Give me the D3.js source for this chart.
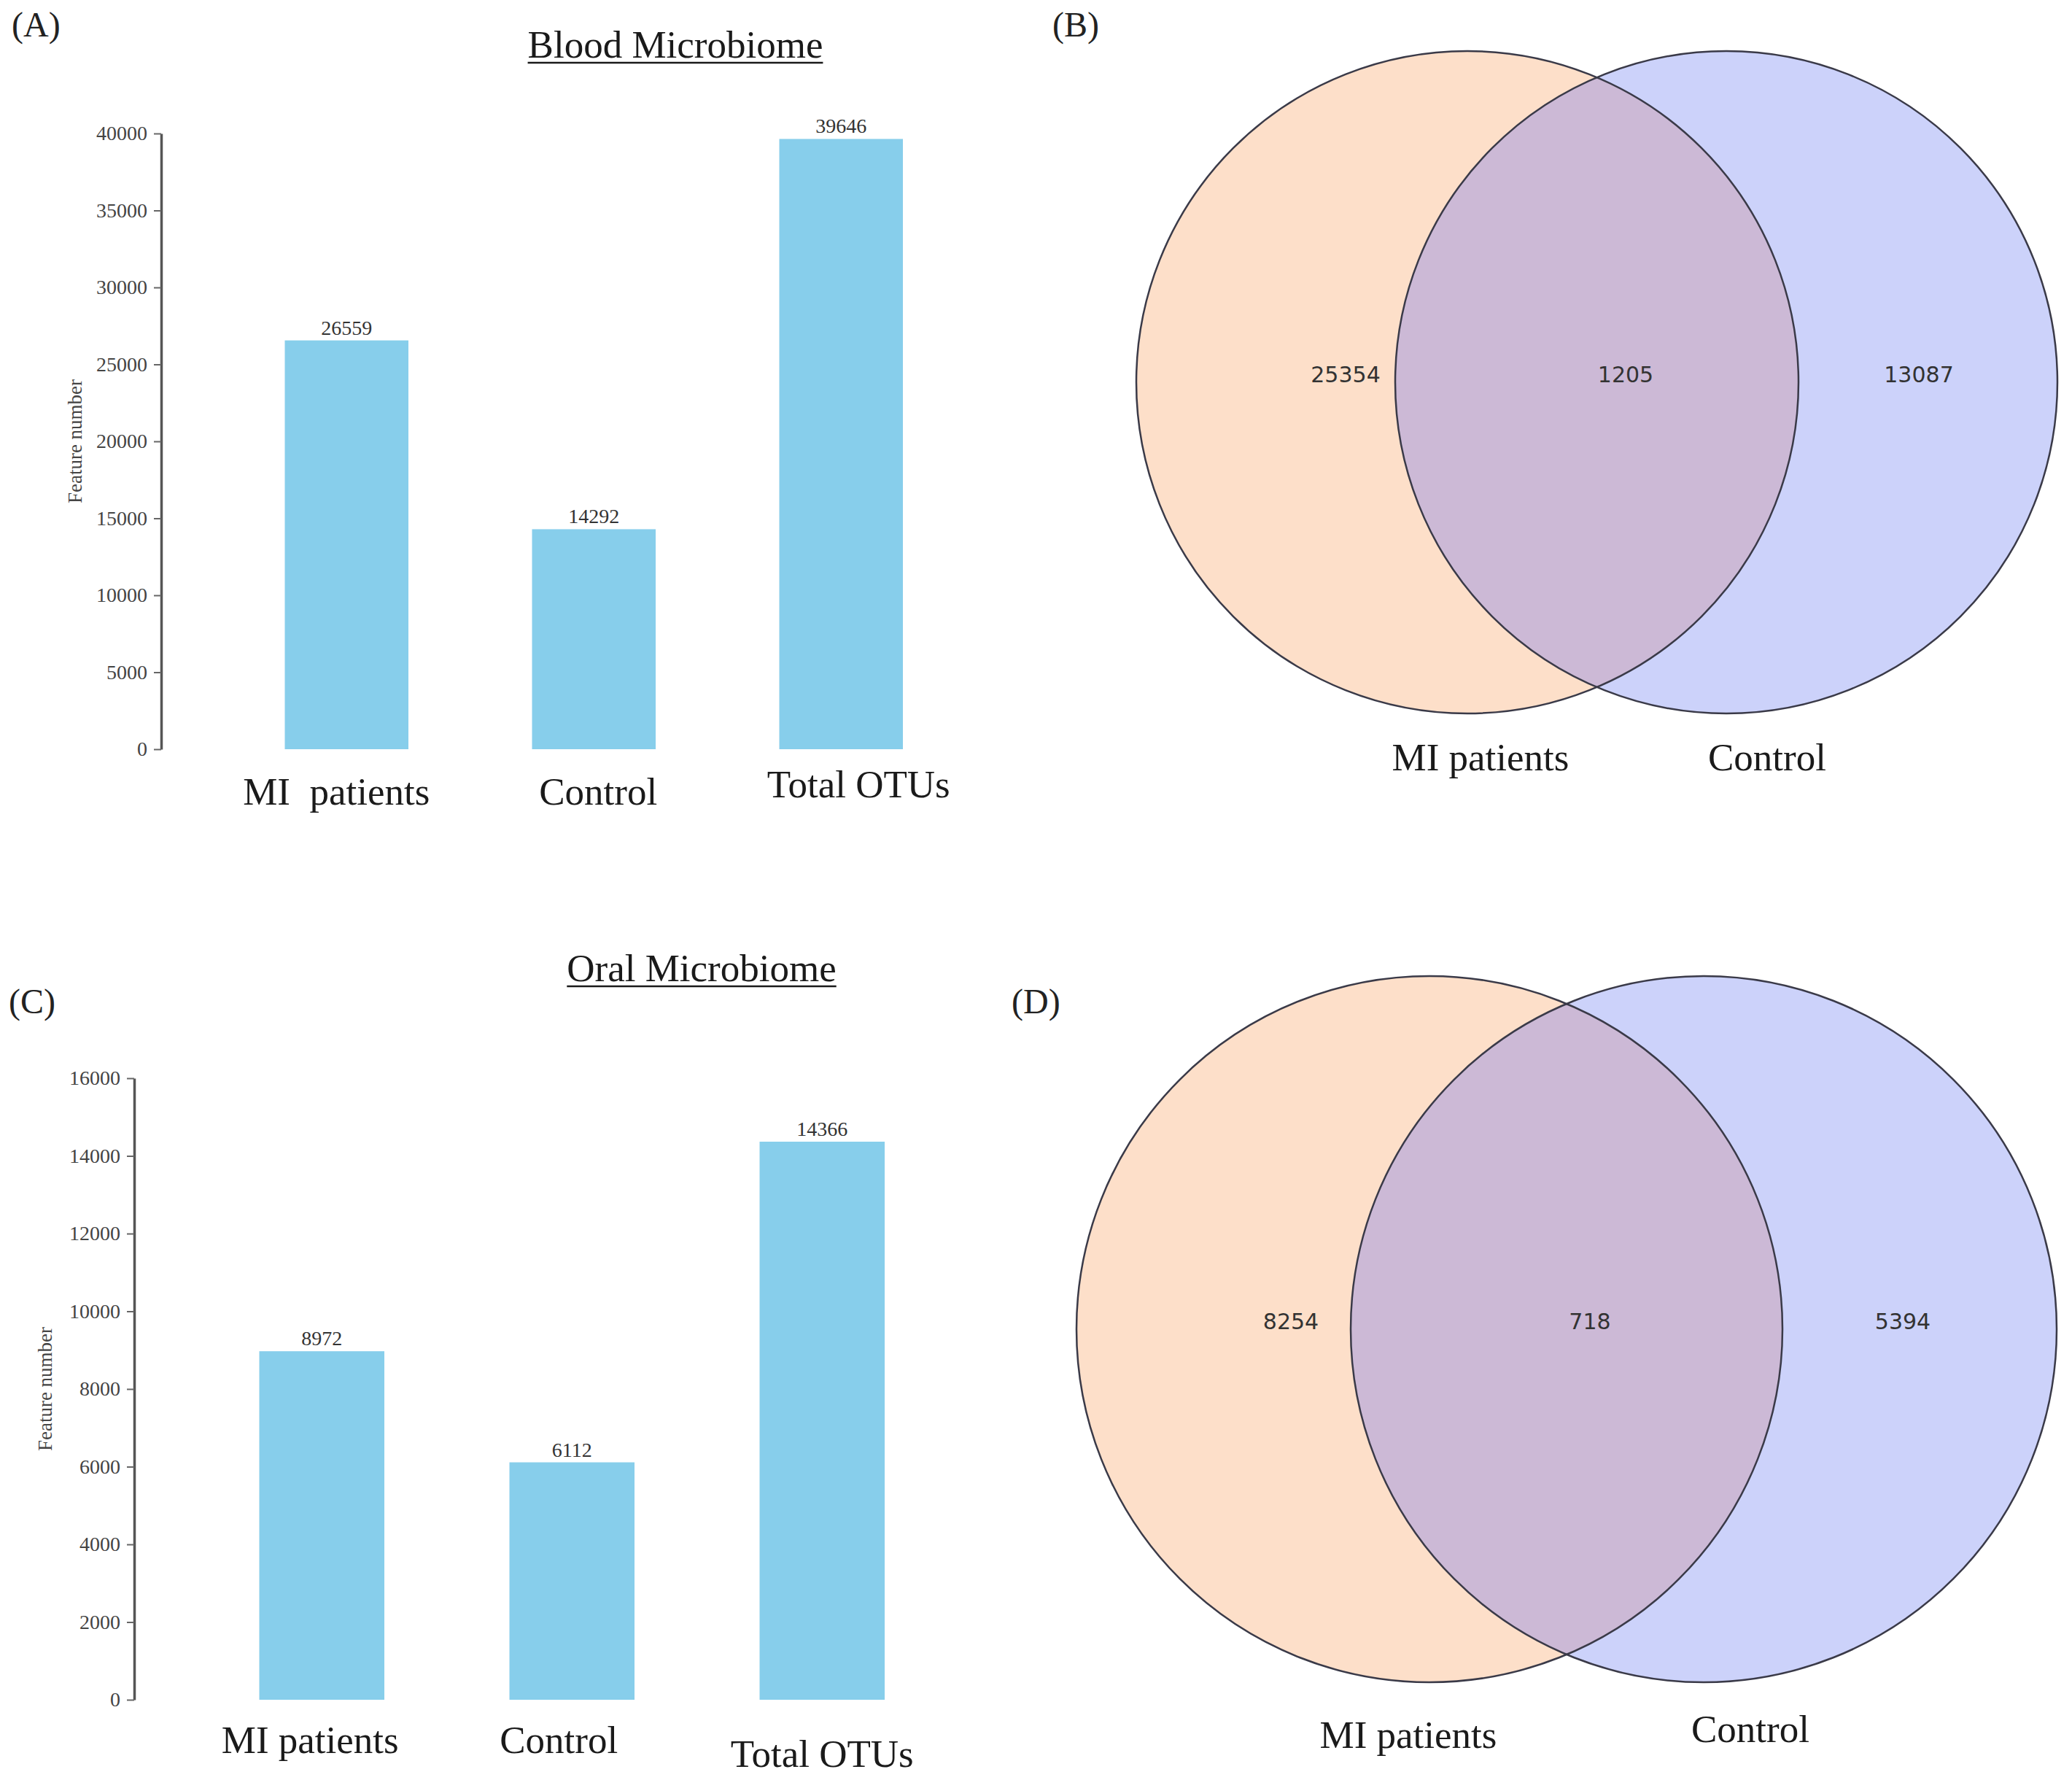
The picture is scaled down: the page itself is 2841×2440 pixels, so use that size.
<!DOCTYPE html>
<html>
<head>
<meta charset="utf-8">
<script src="https://cdn.jsdelivr.net/npm/d3@7"></script>
<style>
  body { margin: 0; background: #fff; }
  svg { display: block; }
</style>
</head>
<body>
<script>
// Daten
const bloodCategories = ["MI  patients", "Control", "Total OTUs"];
const bloodValues = [26559, 14292, 39646];
const bloodTicks = [0, 5000, 10000, 15000, 20000, 25000, 30000, 35000, 40000];

const oralCategories = ["MI patients", "Control", "Total OTUs"];
const oralValues = [8972, 6112, 14366];
const oralTicks = [0, 2000, 4000, 6000, 8000, 10000, 12000, 14000, 16000];

const vennSets = ["MI patients", "Control"];
const bloodVenn = [25354, 1205, 13087];   // nur MI, beide, nur Control
const oralVenn = [8254, 718, 5394];

const W = 2841, H = 2440;
const serif = "'Liberation Serif', 'Times New Roman', serif";

const svg = d3.select("body").append("svg")
    .attr("width", W)
    .attr("height", H);
svg.append("rect").attr("width", W).attr("height", H).attr("fill", "#fff");

// Panel-Buchstaben
const panelLetters = [
    { t: "(A)", x: 16, y: 50 },
    { t: "(B)", x: 1443, y: 50 },
    { t: "(C)", x: 12, y: 1389 },
    { t: "(D)", x: 1387, y: 1389 },
];
svg.selectAll("text.panel")
    .data(panelLetters)
    .join("text")
    .attr("class", "panel")
    .attr("x", d => d.x)
    .attr("y", d => d.y)
    .attr("font-family", serif)
    .attr("font-size", 48)
    .attr("fill", "#222")
    .text(d => d.t);

// Balkendiagramm
function drawBars(cfg) {
    const g = svg.append("g");

    const x = d3.scaleBand()
        .domain(cfg.categories)
        .range([cfg.axisX, cfg.axisX + cfg.step * 3.5])
        .padding(0.5);

    const y = d3.scaleLinear()
        .domain([0, cfg.ticks[cfg.ticks.length - 1]])
        .range([cfg.yBottom, cfg.yTop]);

    // Titel mit Unterstrich
    const title = g.append("text")
        .attr("x", cfg.titleX)
        .attr("y", cfg.titleY)
        .attr("text-anchor", "middle")
        .attr("font-family", serif)
        .attr("font-size", 53)
        .attr("fill", "#1a1a1a")
        .text(cfg.title);
    const tw = title.node().getComputedTextLength();
    g.append("line")
        .attr("x1", cfg.titleX - tw / 2)
        .attr("x2", cfg.titleX + tw / 2)
        .attr("y1", cfg.titleY + 7)
        .attr("y2", cfg.titleY + 7)
        .attr("stroke", "#1a1a1a")
        .attr("stroke-width", 2.5);

    // Y-Achse
    const axis = g.append("g")
        .attr("transform", `translate(${cfg.axisX},0)`)
        .call(d3.axisLeft(y).tickValues(cfg.ticks).tickSize(10).tickSizeOuter(0).tickPadding(9)
            .tickFormat(d3.format("d")));
    axis.select(".domain").attr("stroke", "#555").attr("stroke-width", 3.5);
    axis.selectAll(".tick line").attr("stroke", "#666").attr("stroke-width", 2);
    axis.selectAll(".tick text")
        .attr("font-family", serif)
        .attr("font-size", 28)
        .attr("fill", "#444");

    g.append("text")
        .attr("transform", `translate(${cfg.ylabelX},${(cfg.yTop + cfg.yBottom) / 2}) rotate(-90)`)
        .attr("text-anchor", "middle")
        .attr("font-family", serif)
        .attr("font-size", 27)
        .attr("fill", "#444")
        .text("Feature number");

    // Balken
    g.selectAll("rect.bar")
        .data(cfg.values)
        .join("rect")
        .attr("class", "bar")
        .attr("x", (d, i) => x(cfg.categories[i]))
        .attr("y", d => y(d))
        .attr("width", x.bandwidth())
        .attr("height", d => y(0) - y(d))
        .attr("fill", "#87CEEB");

    // Werte über den Balken
    g.selectAll("text.val")
        .data(cfg.values)
        .join("text")
        .attr("class", "val")
        .attr("x", (d, i) => x(cfg.categories[i]) + x.bandwidth() / 2)
        .attr("y", d => y(d) - 8)
        .attr("text-anchor", "middle")
        .attr("font-family", serif)
        .attr("font-size", 28)
        .attr("fill", "#333")
        .text(d => d);

    // Kategorie-Beschriftungen
    g.selectAll("text.cat")
        .data(cfg.categories)
        .join("text")
        .attr("class", "cat")
        .attr("x", (d, i) => x(d) + x.bandwidth() / 2 + cfg.labelDx[i])
        .attr("y", (d, i) => cfg.labelY[i])
        .attr("text-anchor", "middle")
        .attr("font-family", serif)
        .attr("font-size", 53)
        .attr("fill", "#1a1a1a")
        .style("white-space", "pre")
        .text(d => d);
}

// Venn-Diagramm
function drawVenn(cfg) {
    const g = svg.append("g");
    const id = cfg.id;
    const circles = [
        { cx: cfg.cx1, fill: "#FDDFC9" },
        { cx: cfg.cx2, fill: "#CCD2FA" },
    ];

    g.append("clipPath")
        .attr("id", id)
        .append("circle")
        .attr("cx", cfg.cx1).attr("cy", cfg.cy).attr("r", cfg.r);

    g.selectAll("circle.fill")
        .data(circles)
        .join("circle")
        .attr("class", "fill")
        .attr("cx", d => d.cx)
        .attr("cy", cfg.cy)
        .attr("r", cfg.r)
        .attr("fill", d => d.fill);

    g.append("circle")
        .attr("cx", cfg.cx2).attr("cy", cfg.cy).attr("r", cfg.r)
        .attr("clip-path", `url(#${id})`)
        .attr("fill", "#CCB9D6");

    g.selectAll("circle.edge")
        .data(circles)
        .join("circle")
        .attr("class", "edge")
        .attr("cx", d => d.cx)
        .attr("cy", cfg.cy)
        .attr("r", cfg.r)
        .attr("fill", "none")
        .attr("stroke", "#3a3a48")
        .attr("stroke-width", 2.5);

    g.selectAll("text.num")
        .data(cfg.counts)
        .join("text")
        .attr("class", "num")
        .attr("x", (d, i) => cfg.numX[i])
        .attr("y", cfg.cy - 9)
        .attr("text-anchor", "middle")
        .attr("dominant-baseline", "middle")
        .attr("font-family", "'DejaVu Sans', sans-serif")
        .attr("font-size", 30)
        .attr("fill", "#333")
        .text(d => d);

    g.selectAll("text.set")
        .data(vennSets)
        .join("text")
        .attr("class", "set")
        .attr("x", (d, i) => cfg.labelX[i])
        .attr("y", (d, i) => cfg.labelY[i])
        .attr("text-anchor", "middle")
        .attr("font-family", serif)
        .attr("font-size", 53)
        .attr("fill", "#1a1a1a")
        .text(d => d);
}

drawBars({
    categories: bloodCategories, values: bloodValues, ticks: bloodTicks,
    axisX: 221, step: 339, yTop: 183, yBottom: 1027,
    title: "Blood Microbiome", titleX: 926, titleY: 79,
    ylabelX: 112,
    labelDx: [-14, 6, 24], labelY: [1103, 1103, 1093],
});

drawBars({
    categories: oralCategories, values: oralValues, ticks: oralTicks,
    axisX: 184, step: 343, yTop: 1478, yBottom: 2330,
    title: "Oral Microbiome", titleX: 962, titleY: 1345,
    ylabelX: 71,
    labelDx: [-16, -18, 0], labelY: [2403, 2403, 2422],
});

drawVenn({
    id: "clipB", cx1: 2012, cx2: 2367, cy: 524, r: 454,
    counts: bloodVenn, numX: [1845, 2229, 2631],
    labelX: [2030, 2423], labelY: [1056, 1056],
});

drawVenn({
    id: "clipD", cx1: 1960, cx2: 2336, cy: 1822, r: 484,
    counts: oralVenn, numX: [1770, 2180, 2609],
    labelX: [1931, 2400], labelY: [2396, 2388],
});
</script>
</body>
</html>
